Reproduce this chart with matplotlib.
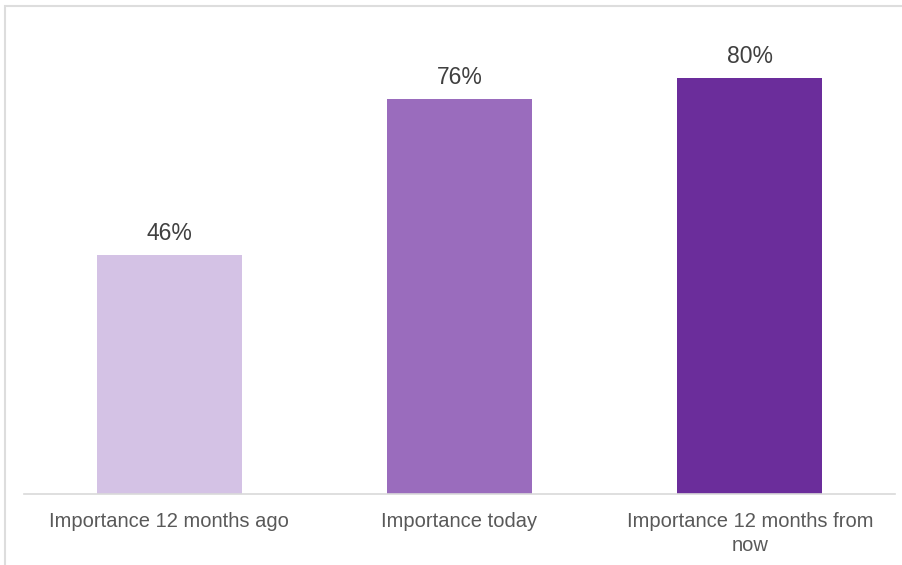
import matplotlib.pyplot as plt
from matplotlib.patches import Rectangle

# data
categories = ['Importance 12 months ago', 'Importance today', 'Importance 12 months from\nnow']
values = [46, 76, 80]
colors = ['#D4C2E5', '#9A6CBD', '#6B2D9B']

plt.rcParams['font.family'] = ['Liberation Sans', 'DejaVu Sans']

fig = plt.figure(figsize=(9.03, 5.65), dpi=100)
ax = fig.add_axes([24 / 903, 71 / 565, 871 / 903, 468 / 565])

bars = ax.bar(range(len(values)), values, width=0.5, color=colors)

for b, v in zip(bars, values):
    ax.text(b.get_x() + b.get_width() / 2, v + 1.9, f'{v}%', ha='center', va='bottom',
            fontsize=16.5, color='#404040')

ax.set_xlim(-0.5, 2.5)
ax.set_ylim(0, 90)
ax.set_xticks(range(len(values)))
ax.set_xticklabels(categories, fontsize=14.5, color='#595959', linespacing=1.3)
ax.tick_params(axis='x', length=0, pad=13)
ax.set_yticks([])
for s in ['top', 'right', 'left']:
    ax.spines[s].set_visible(False)
ax.spines['bottom'].set_color('#D9D9D9')
ax.spines['bottom'].set_linewidth(1.2)

# light border round the chart area
fig.patches.append(Rectangle((5 / 903, -0.01), 1.0, 1 - 6 / 565 + 0.01, transform=fig.transFigure,
                             fill=False, edgecolor='#DDDDDD', linewidth=1.5))

plt.savefig('out.png', dpi=100)
